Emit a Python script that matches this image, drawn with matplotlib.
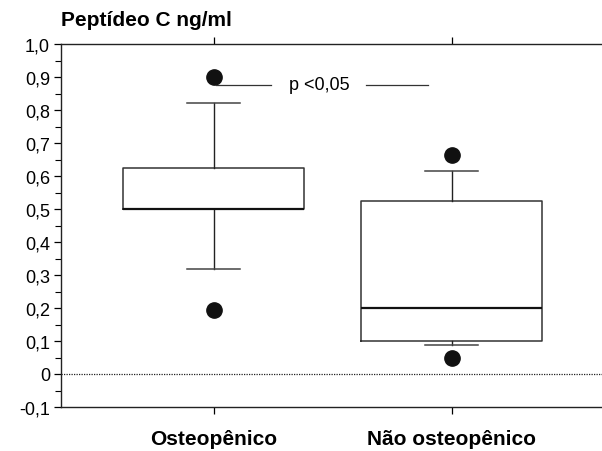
import matplotlib.pyplot as plt
from matplotlib.ticker import MultipleLocator

plt.rcParams['font.family'] = ['Liberation Sans', 'DejaVu Sans']

# Box statistics
groups = ['Osteopênico', 'Não osteopênico']
q1 = [0.50, 0.10]
medians = [0.50, 0.20]
q3 = [0.625, 0.525]
whisker_low = [0.318, 0.088]
whisker_high = [0.82, 0.615]
outliers = [[0.90, 0.195], [0.665, 0.048]]

y_ticks = [1.0, 0.9, 0.8, 0.7, 0.6, 0.5, 0.4, 0.3, 0.2, 0.1, 0.0, -0.1]
y_labels = ['1,0', '0,9', '0,8', '0,7', '0,6', '0,5', '0,4', '0,3', '0,2', '0,1', '0', '-0,1']
p_label = 'p <0,05'
p_level = 0.876

fig = plt.figure(figsize=(6.02, 4.52), dpi=100)
ax = fig.add_axes([61 / 602, 44 / 452, 541 / 602, 363 / 452])

stats = []
for i in range(len(groups)):
    stats.append({'q1': q1[i], 'med': medians[i], 'q3': q3[i],
                  'whislo': whisker_low[i], 'whishi': whisker_high[i],
                  'fliers': outliers[i], 'label': groups[i]})

ax.bxp(stats, positions=[1, 2], widths=0.76, showfliers=True,
       boxprops=dict(color='#333333', linewidth=1.1),
       medianprops=dict(color='#111111', linewidth=1.6),
       whiskerprops=dict(color='#222222', linewidth=1.0),
       capprops=dict(color='#444444', linewidth=1.1),
       capwidths=0.22,
       flierprops=dict(marker='o', markerfacecolor='#111111',
                       markeredgecolor='#111111', markersize=11))

# dotted zero line
ax.axhline(0, color='#222222', linestyle=(0, (1, 1)), linewidth=0.9)

# significance annotation
ax.plot([1.01, 1.24], [p_level, p_level], color='#333333', linewidth=0.9)
ax.plot([1.64, 1.9], [p_level, p_level], color='#333333', linewidth=0.9)
ax.text(1.445, p_level, p_label, ha='center', va='center', fontsize=13)

ax.set_xlim(0.359, 2.632)
ax.set_ylim(-0.1, 1.0)

ax.set_yticks(y_ticks)
ax.set_yticklabels(y_labels, fontsize=13)
ax.yaxis.set_minor_locator(MultipleLocator(0.05))
ax.tick_params(axis='y', which='major', direction='out', length=5, width=0.9, pad=3)
ax.tick_params(axis='y', which='minor', direction='out', length=4, width=0.8)

ax.set_xticks([1, 2])
ax.set_xticklabels(groups, fontsize=15, fontweight='bold')
ax.tick_params(axis='x', which='both', direction='out', length=5, width=0.9, pad=11,
               top=True)

ax.spines['right'].set_visible(False)
for s in ['left', 'bottom', 'top']:
    ax.spines[s].set_linewidth(1.0)
    ax.spines[s].set_color('#222222')

fig.text(61 / 602, 1 - 20 / 452, 'Peptídeo C ng/ml', fontsize=15,
         fontweight='bold', ha='left', va='center')

fig.savefig('out.png', dpi=100)
